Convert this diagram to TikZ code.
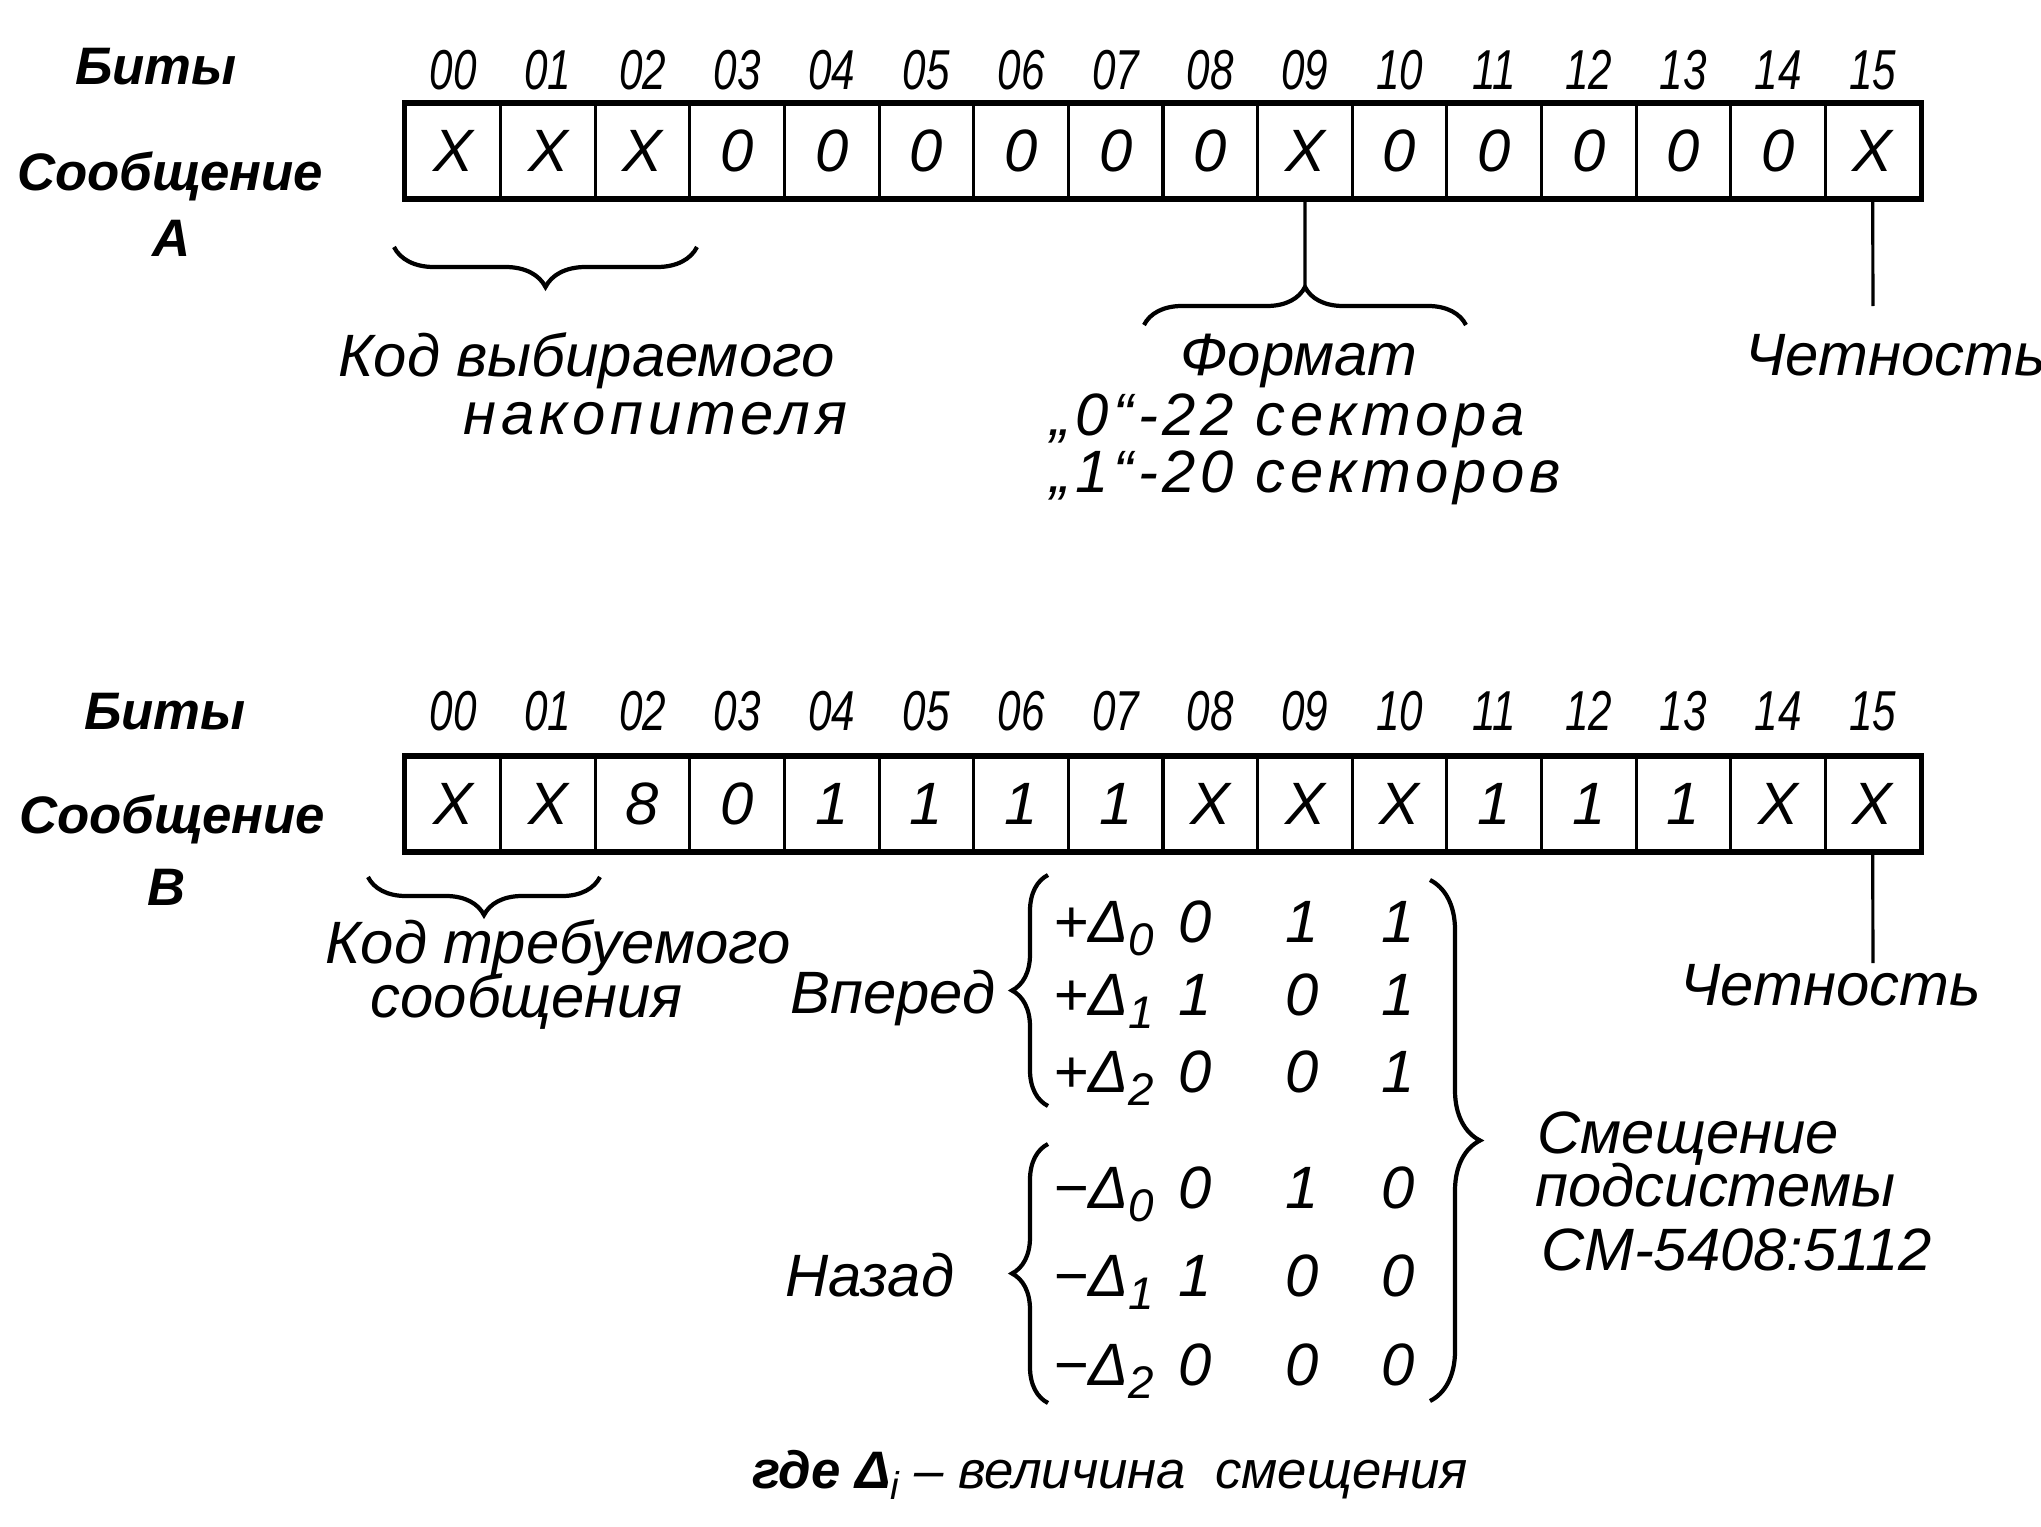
\documentclass[tikz,border=0pt]{standalone}
\usepackage{fontspec}
\setmainfont{Liberation Sans}
\newfontfamily\narrowdig[FakeStretch=0.75]{Liberation Sans}
\newfontfamily\widetxt[LetterSpace=8]{Liberation Sans}
\usetikzlibrary{decorations.pathreplacing}
\begin{document}
\begin{tikzpicture}[x=0.01cm,y=-0.01cm,
  txt/.style={inner sep=0pt, anchor=base west, font=\fontsize{17}{20}\selectfont\itshape},
  widet/.style={inner sep=0pt, anchor=base west, font=\widetxt\fontsize{17}{20}\selectfont\itshape},
  hdr/.style={inner sep=0pt, anchor=base, font=\fontsize{15}{18}\selectfont\bfseries\itshape},
  bitlbl/.style={inner sep=0pt, anchor=base, font=\narrowdig\fontsize{16}{19}\selectfont\itshape},
  cellbox/.style={draw, line width=0.85pt, minimum width=0.94625cm, minimum height=0.93cm,
    inner sep=0pt, font=\fontsize{17}{20}\selectfont\itshape},
  outerbox/.style={line width=1.5pt},
  conn/.style={line width=0.9pt},
  brc/.style={decorate, line width=1.2pt}
]
\useasboundingbox (0,0) rectangle (2041,1527);

% ---------------- Message A ----------------
\node[hdr] (bitsA) at (156,84) {Биты};
\node[hdr] (msgA) at (170,190) {Сообщение};
\node[hdr] (letA) at (172,256) {А};
\foreach \v [count=\i from 0] in {X,X,X,0,0,0,0,0,0,X,0,0,0,0,0,X} {
  \node[cellbox] (a\i) at ({406+(\i+0.5)*94.625},151) {\v};
  \node[bitlbl] (la\i) at ({406+(\i+0.5)*94.625},89) {\ifnum\i<10 0\i\else\i\fi};
}
\draw[outerbox] (a0.north west) rectangle (a15.south east);

\coordinate (bAL) at (394,247);
\coordinate (bAR) at (697,247);
\draw[brc, decoration={brace, amplitude=0.4cm}] (bAR) -- (bAL);
\node[txt] (kodA1) at (338,376) {Код выбираемого};
\node[widet, anchor=base east] (kodA2) at (848,434) {накопителя};

\coordinate (fmtTip) at (1305,287);
\coordinate (fmtL) at (1144,325);
\coordinate (fmtR) at (1466,325);
\draw[conn] (a9.south) -- (fmtTip);
\draw[brc, decoration={brace, amplitude=0.38cm}] (fmtL) -- (fmtR);
\node[txt, anchor=base] (fmt) at (1299,375) {Формат};
\node[widet] (fmt0) at (1050,435) {„0“-22 сектора};
\node[widet] (fmt1) at (1050,492) {„1“-20 секторов};

\coordinate (parAend) at (1873,306);
\draw[conn] (a15.south) -- (parAend);
\node[txt] (parA) at (1745,375) {Четность};

% ---------------- Message B ----------------
\node[hdr] (bitsB) at (165,729) {Биты};
\node[hdr] (msgB) at (172,833) {Сообщение};
\node[hdr] (letB) at (167,905) {В};
\foreach \v [count=\i from 0] in {X,X,8,0,1,1,1,1,X,X,X,1,1,1,X,X} {
  \node[cellbox] (b\i) at ({406+(\i+0.5)*94.625},804) {\v};
  \node[bitlbl] (lb\i) at ({406+(\i+0.5)*94.625},730) {\ifnum\i<10 0\i\else\i\fi};
}
\draw[outerbox] (b0.north west) rectangle (b15.south east);

\coordinate (bBL) at (368,877);
\coordinate (bBR) at (600,877);
\draw[brc, decoration={brace, amplitude=0.38cm}] (bBR) -- (bBL);
\node[txt] (kodB1) at (325,963) {Код требуемого};
\node[txt] (kodB2) at (370,1017) {сообщения};

\coordinate (parBend) at (1873,963);
\draw[conn] (b15.south) -- (parBend);
\node[txt] (parB) at (1680,1005) {Четность};

\node[txt] (fwd) at (790,1013) {Вперед};
\node[txt] (bwd) at (785,1296) {Назад};

\coordinate (vpT) at (1048,875);
\coordinate (vpB) at (1048,1106);
\draw[brc, decoration={brace, amplitude=0.36cm}] (vpB) -- (vpT);
\coordinate (nzT) at (1048,1144);
\coordinate (nzB) at (1048,1403);
\draw[brc, decoration={brace, amplitude=0.36cm}] (nzB) -- (nzT);
\coordinate (rbT) at (1430,880);
\coordinate (rbB) at (1430,1401);
\draw[brc, decoration={brace, amplitude=0.5cm}] (rbT) -- (rbB);

\foreach \s/\k/\p/\q/\r/\yy [count=\n] in
  {+/0/0/1/1/942, +/1/1/0/1/1015, +/2/0/0/1/1092,
   −/0/0/1/0/1208, −/1/1/0/0/1296, −/2/0/0/0/1385} {
  \node[txt] (d\n) at (1053,\yy) {\s Δ\raisebox{-3.7pt}{\fontsize{13}{13}\selectfont\k}};
  \node[txt, anchor=base] (m\n-1) at (1195,\yy) {\p};
  \node[txt, anchor=base] (m\n-2) at (1302,\yy) {\q};
  \node[txt, anchor=base] (m\n-3) at (1398,\yy) {\r};
}

\node[txt] (smA) at (1537,1153) {Смещение};
\node[txt] (smB) at (1535,1206) {подсистемы};
\node[txt] (smC) at (1541,1270) {СМ-5408:5112};

\node[txt, font=\fontsize{15}{18}\selectfont\itshape] (note) at (752,1488)
  {{\bfseries где Δ}\raisebox{-3.3pt}{\fontsize{11}{11}\selectfont i} – величина\ \ смещения};
\end{tikzpicture}
\end{document}
